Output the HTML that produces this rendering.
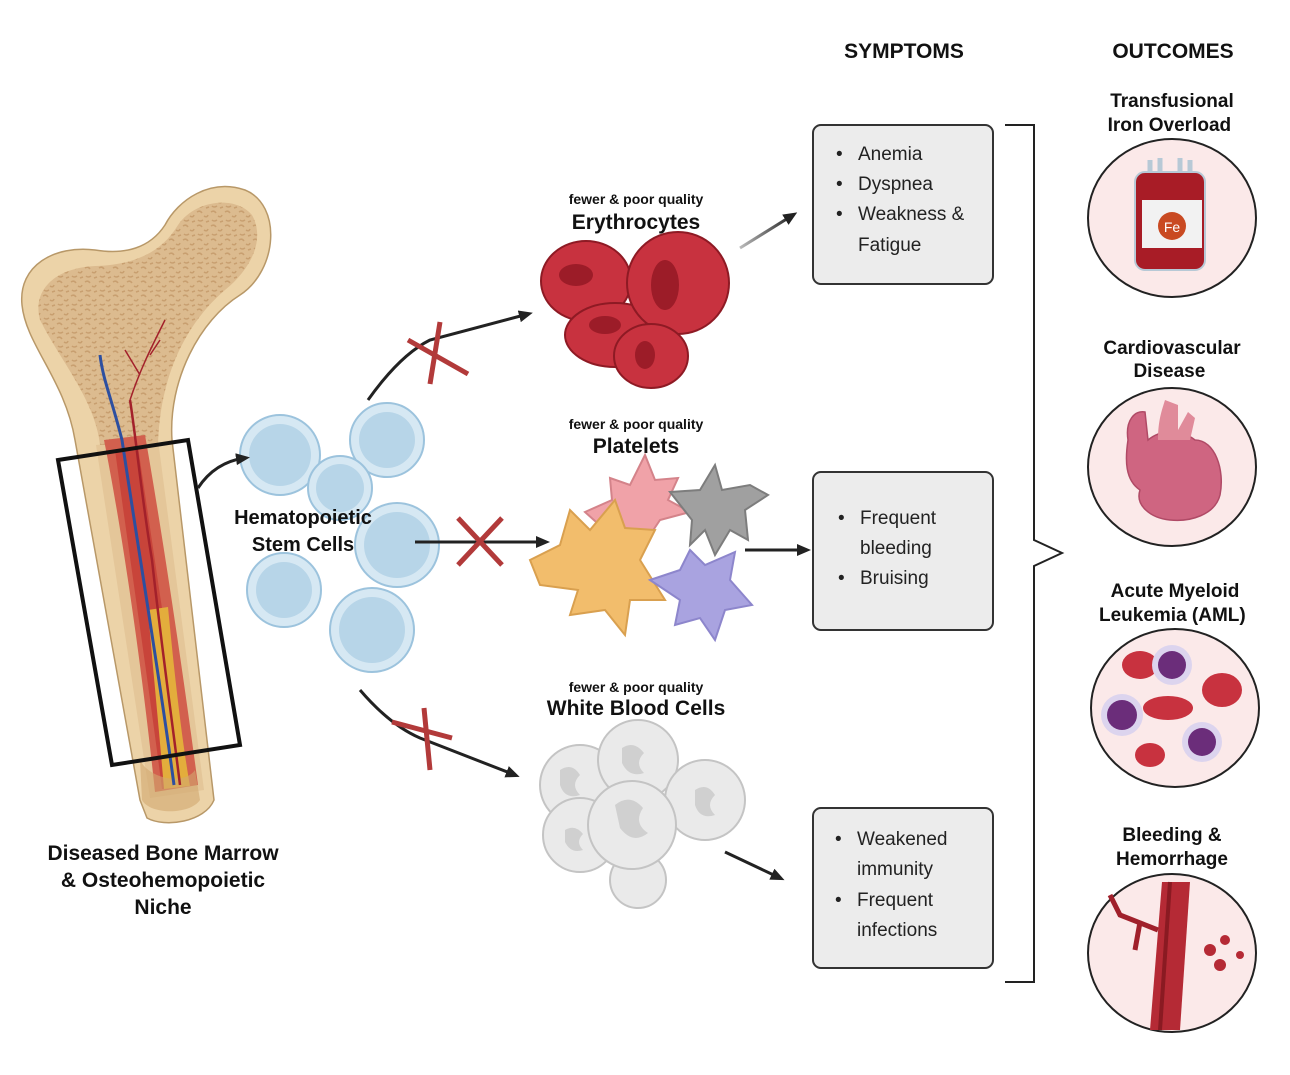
<!DOCTYPE html>
<html><head><meta charset="utf-8"><style>
html,body{margin:0;padding:0;background:#fff;}
svg{display:block;font-family:"Liberation Sans",Arial,sans-serif;}
.b{font-weight:bold;fill:#111;}
.s{font-size:19px;fill:#222;}
</style></head><body>
<svg width="1290" height="1075" viewBox="0 0 1290 1075">
<defs>
<marker id="ah" markerWidth="14" markerHeight="14" refX="9" refY="7" orient="auto" markerUnits="userSpaceOnUse">
<path d="M0,1 L14,7 L0,13 z" fill="#222"/></marker>
<pattern id="sp" width="14" height="14" patternUnits="userSpaceOnUse">
<rect width="14" height="14" fill="#dcbb8f"/>
<path d="M1,2 q3,-2 5,1 M8,6 q3,2 4,-1 M2,10 q2,2 5,0 M10,12 l3,-1" stroke="#c89f70" stroke-width="1.5" fill="none"/>
</pattern>
<linearGradient id="fade" x1="0" x2="1"><stop offset="0" stop-color="#bbb"/><stop offset="1" stop-color="#222"/></linearGradient>
</defs>
<rect width="1290" height="1075" fill="#fff"/>

<!-- Bone -->
<path d="M147,818 C165,828 205,822 214,800 L172,440 C168,380 200,320 240,295 C278,270 282,205 245,190 C210,178 178,200 165,225 C150,248 125,255 95,250 C55,245 18,265 22,305 C26,345 65,380 75,440 L140,800 Z" fill="#ecd3a8" stroke="#b89868" stroke-width="1.5"/>
<path d="M100,445 C95,400 60,360 40,320 C32,290 55,268 95,266 C130,265 160,255 178,225 C195,200 235,195 252,215 C266,240 250,270 225,290 C190,320 160,370 158,445 Z" fill="url(#sp)"/>
<path d="M96,445 L158,440 L204,790 L150,798 Z" fill="#dcb98a" opacity="0.5"/>
<path d="M104,440 L145,435 C160,520 180,650 198,785 L155,792 C140,650 120,520 104,440 Z" fill="#d2604e"/>
<path d="M115,450 L138,447 C155,560 172,680 190,786 L162,789 C148,680 130,560 115,450 Z" fill="#c8443a"/>
<path d="M148,610 L168,607 C175,680 182,740 190,786 L164,789 C160,740 154,680 148,610 Z" fill="#e3ad3c"/>
<path d="M140,760 C150,780 185,785 195,770 L200,800 C190,815 150,815 142,800 Z" fill="#d2a870" opacity="0.6"/>
<path d="M100,355 C103,380 112,400 122,440 C140,560 160,680 174,785" stroke="#2d4fa0" stroke-width="3" fill="none"/>
<path d="M130,400 C135,430 142,500 152,560 C162,650 172,720 180,785" stroke="#a3212b" stroke-width="2.5" fill="none"/>
<path d="M130,400 C140,370 150,350 165,320 M140,375 L125,350 M150,355 L160,340" stroke="#a3212b" stroke-width="1.5" fill="none"/>
<polygon points="58,460 188,440 240,745 112,765" fill="none" stroke="#111" stroke-width="4"/>
<text class="b" font-size="21" text-anchor="middle"><tspan x="163" y="860">Diseased Bone Marrow</tspan><tspan x="163" y="887">&amp;  Osteohemopoietic</tspan><tspan x="163" y="914">Niche</tspan></text>

<!-- stem cells -->
<g fill="#d6e8f3" stroke="#9cc3dd" stroke-width="2">
<circle cx="280" cy="455" r="40"/><circle cx="387" cy="440" r="37"/><circle cx="340" cy="488" r="32"/>
<circle cx="397" cy="545" r="42"/><circle cx="284" cy="590" r="37"/><circle cx="372" cy="630" r="42"/>
</g>
<g fill="#b7d5e8"><circle cx="280" cy="455" r="31"/><circle cx="387" cy="440" r="28"/><circle cx="340" cy="488" r="24"/><circle cx="397" cy="545" r="33"/><circle cx="284" cy="590" r="28"/><circle cx="372" cy="630" r="33"/></g>
<text class="b" font-size="20" text-anchor="middle"><tspan x="303" y="524">Hematopoietic</tspan><tspan x="303" y="551">Stem Cells</tspan></text>

<!-- arrows -->
<g stroke="#222" stroke-width="3" fill="none" marker-end="url(#ah)">
<path d="M198,488 Q215,462 245,458"/>
<path d="M368,400 Q400,355 430,340 L528,314"/>
<path d="M415,542 L545,542"/>
<path d="M360,690 Q390,725 420,738 L515,775"/>
<path d="M740,248 L793,215" stroke="url(#fade)"/>
<path d="M745,550 L806,550"/>
<path d="M725,852 L780,878"/>
</g>
<g stroke="#b23a3a" stroke-width="5"><path d="M408,340 L468,374 M440,322 L430,384"/><path d="M458,518 L502,565 M502,518 L458,565"/><path d="M392,722 L452,738 M424,708 L430,770"/></g>

<!-- erythrocytes -->
<text class="b" text-anchor="middle"><tspan x="636" y="204" font-size="14">fewer &amp; poor quality</tspan><tspan x="636" y="229" font-size="21">Erythrocytes</tspan></text>
<g fill="#c8323f" stroke="#8e1a24" stroke-width="2">
<ellipse cx="586" cy="281" rx="45" ry="40"/><ellipse cx="615" cy="335" rx="50" ry="32"/><circle cx="678" cy="283" r="51"/><ellipse cx="651" cy="356" rx="37" ry="32"/></g>
<g fill="#9c1c28"><ellipse cx="576" cy="275" rx="17" ry="11"/><ellipse cx="665" cy="285" rx="14" ry="25"/><ellipse cx="605" cy="325" rx="16" ry="9"/><ellipse cx="645" cy="355" rx="10" ry="14"/></g>

<!-- platelets -->
<text class="b" text-anchor="middle"><tspan x="636" y="429" font-size="14">fewer &amp; poor quality</tspan><tspan x="636" y="453" font-size="21">Platelets</tspan></text>
<g stroke-width="2">
<path d="M585,512 L612,500 L610,478 L630,485 L645,455 L655,480 L678,478 L668,500 L690,512 L660,520 L650,535 L625,528 L605,530 Z" fill="#f0a2a8" stroke="#d4838a"/>
<path d="M670,492 L700,490 L715,465 L722,490 L750,485 L768,495 L745,510 L748,540 L730,530 L715,555 L705,530 L690,545 L692,520 Z" fill="#a0a0a0" stroke="#7d7d7d"/>
<path d="M530,560 L560,545 L570,510 L590,530 L615,500 L625,528 L655,530 L640,560 L665,600 L630,600 L625,635 L605,610 L570,615 L578,590 L540,585 Z" fill="#f2bd6c" stroke="#d9a04f"/>
<path d="M650,580 L680,570 L690,550 L705,565 L735,552 L730,580 L752,605 L725,610 L715,640 L700,618 L675,625 L680,600 Z" fill="#a9a3e0" stroke="#8d86cc"/>
</g>

<!-- WBC -->
<text class="b" text-anchor="middle"><tspan x="636" y="692" font-size="14">fewer &amp; poor quality</tspan><tspan x="636" y="715" font-size="21">White Blood Cells</tspan></text>
<g fill="#eaeaea" stroke="#c4c4c4" stroke-width="2">
<circle cx="638" cy="880" r="28"/><circle cx="580" cy="785" r="40"/><circle cx="638" cy="760" r="40"/><circle cx="705" cy="800" r="40"/><circle cx="580" cy="835" r="37"/><circle cx="632" cy="825" r="44"/></g>
<g fill="#d0d0d0"><path d="M615,805 q15,-12 28,3 q-10,15 5,25 q-15,12 -28,-5 z"/><path d="M622,748 q12,-8 22,5 q-10,10 0,20 q-15,5 -22,-10z"/><path d="M695,790 q12,-8 20,5 q-10,10 0,20 q-15,5 -20,-10z"/><path d="M560,770 q12,-8 20,5 q-10,10 0,20 q-15,5 -20,-10z"/><path d="M565,830 q10,-6 18,4 q-8,8 0,16 q-12,4 -18,-8z"/></g>

<!-- headers -->
<text class="b" font-size="21" x="904" y="58" text-anchor="middle">SYMPTOMS</text>
<text class="b" font-size="21" x="1173" y="58" text-anchor="middle">OUTCOMES</text>

<!-- symptom boxes -->
<g fill="#ececec" stroke="#333" stroke-width="2">
<rect x="813" y="125" width="180" height="159" rx="8"/><rect x="813" y="472" width="180" height="158" rx="8"/><rect x="813" y="808" width="180" height="160" rx="8"/></g>
<g class="s">
<text x="836" y="160">•</text><text x="858" y="160">Anemia</text>
<text x="836" y="190">•</text><text x="858" y="190">Dyspnea</text>
<text x="836" y="220">•</text><text x="858" y="220">Weakness &amp;</text>
<text x="858" y="251">Fatigue</text>
<text x="838" y="524">•</text><text x="860" y="524">Frequent</text>
<text x="860" y="554">bleeding</text>
<text x="838" y="584">•</text><text x="860" y="584">Bruising</text>
<text x="835" y="845">•</text><text x="857" y="845">Weakened</text>
<text x="857" y="875">immunity</text>
<text x="835" y="906">•</text><text x="857" y="906">Frequent</text>
<text x="857" y="936">infections</text>
</g>
<path d="M1005,125 L1034,125 L1034,540 L1062,553 L1034,566 L1034,982 L1005,982" fill="none" stroke="#222" stroke-width="2"/>

<!-- outcomes -->
<text class="b" font-size="19" text-anchor="middle">
<tspan x="1172" y="107">Transfusional</tspan><tspan x="1172" y="131">Iron Overload</tspan>
<tspan x="1172" y="354">Cardiovascular</tspan><tspan x="1172" y="377">Disease</tspan>
<tspan x="1175" y="597">Acute Myeloid</tspan><tspan x="1175" y="621">Leukemia (AML)</tspan>
<tspan x="1172" y="841">Bleeding &amp;</tspan><tspan x="1172" y="865">Hemorrhage</tspan></text>
<g fill="#fbe9e9" stroke="#222" stroke-width="2">
<ellipse cx="1172" cy="218" rx="84" ry="79"/><ellipse cx="1172" cy="467" rx="84" ry="79"/><ellipse cx="1175" cy="708" rx="84" ry="79"/><ellipse cx="1172" cy="953" rx="84" ry="79"/></g>
<!-- blood bag -->
<path d="M1150,160 L1150,175 M1160,158 L1160,175 M1180,158 L1180,175 M1190,160 L1190,175" stroke="#b7c9d6" stroke-width="5"/>
<rect x="1135" y="172" width="70" height="98" rx="10" fill="#a81c26" stroke="#b7c9d6" stroke-width="2"/>
<rect x="1142" y="200" width="60" height="48" fill="#f2f2f2"/>
<circle cx="1172" cy="226" r="14" fill="#c94a22"/>
<text x="1172" y="232" font-size="14" text-anchor="middle" fill="#fff">Fe</text>
<!-- heart -->
<path d="M1128,440 C1125,420 1135,410 1145,412 L1148,440 C1160,430 1180,428 1195,440 C1215,440 1225,470 1220,495 C1215,515 1190,522 1170,520 C1150,518 1135,505 1140,490 C1125,480 1125,460 1128,440 Z" fill="#cf6581" stroke="#b04a66" stroke-width="1.5"/>
<path d="M1158,440 C1158,420 1162,410 1165,400 L1178,405 L1178,430 L1188,412 L1195,418 L1190,440 Z" fill="#e08b9a"/>
<!-- AML -->
<g fill="#c8323f"><ellipse cx="1140" cy="665" rx="18" ry="14"/><ellipse cx="1222" cy="690" rx="20" ry="17"/><ellipse cx="1168" cy="708" rx="25" ry="12"/><ellipse cx="1150" cy="755" rx="15" ry="12"/></g>
<g fill="#dcd4ee"><circle cx="1172" cy="665" r="20"/><circle cx="1122" cy="715" r="21"/><circle cx="1202" cy="742" r="20"/></g>
<g fill="#6b2d7a"><circle cx="1172" cy="665" r="14"/><circle cx="1122" cy="715" r="15"/><circle cx="1202" cy="742" r="14"/></g>
<!-- vessel -->
<path d="M1162,882 L1190,882 L1180,1030 L1150,1030 Z" fill="#b52a35"/>
<path d="M1170,882 L1160,1030" stroke="#8a1a22" stroke-width="4"/>
<path d="M1158,930 L1120,915 L1110,895 M1140,922 L1135,950" stroke="#a0202b" stroke-width="5" fill="none"/>
<g fill="#b52a35"><circle cx="1210" cy="950" r="6"/><circle cx="1225" cy="940" r="5"/><circle cx="1220" cy="965" r="6"/><circle cx="1240" cy="955" r="4"/></g>
</svg>
</body></html>
